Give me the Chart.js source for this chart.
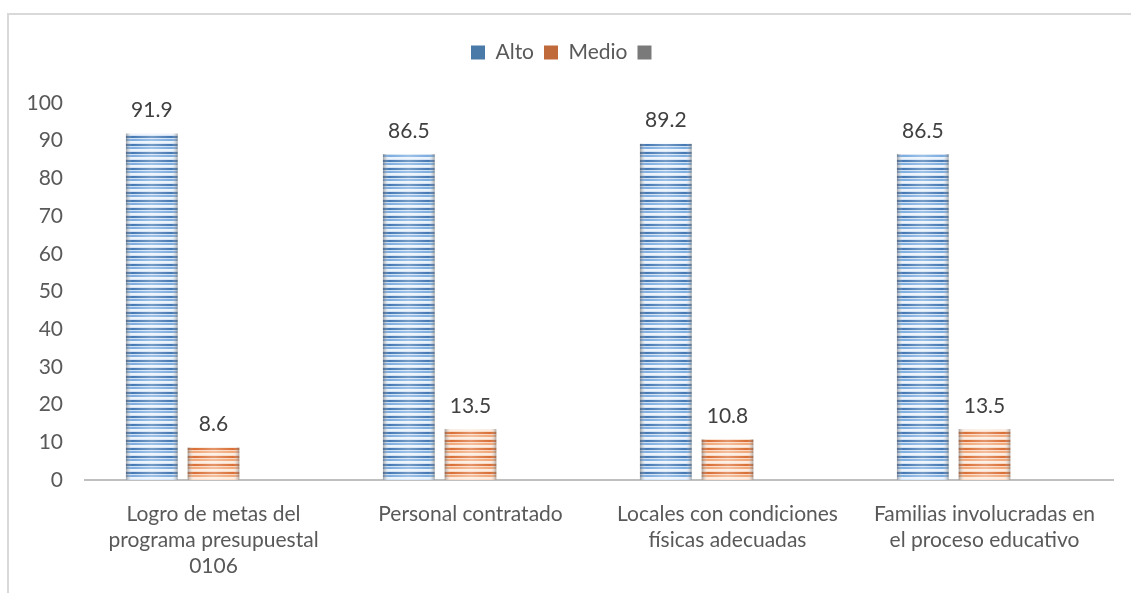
<!DOCTYPE html>
<html>
<head>
<meta charset="utf-8">
<script src="https://cdn.jsdelivr.net/npm/chart.js@4.4.0/dist/chart.umd.min.js"></script>
<style>
  html, body { margin: 0; padding: 0; background: #ffffff; }
  #wrap { position: relative; width: 1131px; height: 593px; overflow: hidden; }
  #frame { position: absolute; left: 7px; top: 13px; width: 1200px; height: 700px;
           border-top: 2px solid #d9d9d9; border-left: 2px solid #d9d9d9; }
  canvas { position: absolute; left: 0; top: 0; }
</style>
</head>
<body>
<div id="wrap">
  <div id="frame"></div>
  <canvas id="c" width="1131" height="593"></canvas>
</div>
<script>
const categories = [
  ["Logro de metas del", "programa presupuestal", "0106"],
  ["Personal contratado"],
  ["Locales con condiciones", "físicas adecuadas"],
  ["Familias involucradas en", "el proceso educativo"]
];
const seriesNames = ["Alto", "Medio", ""];
const altoValues = [91.9, 86.5, 89.2, 86.5];
const medioValues = [8.6, 13.5, 10.8, 13.5];
const thirdValues = [null, null, null, null];
const yTicks = [0, 10, 20, 30, 40, 50, 60, 70, 80, 90, 100];

const FONT = "Lato, 'Open Sans', sans-serif";
const FS = 21;
const CAT_PCT = 0.72;
const BAR_PCT = 0.84;
const NSETS = 3;

const styles = [
  { legend: '#4a7aa8', dark: '#3a71b0', mid: '#74a8de', light1: '#cfe0f3', light2: '#eaf2fb' },
  { legend: '#c0693b', dark: '#d8672a', mid: '#f1a271', light1: '#f8d6c0', light2: '#fcebdf' },
  { legend: '#7a7a7a', dark: '#7a7a7a', mid: '#a0a0a0', light1: '#d0d0d0', light2: '#eeeeee' }
];

const patternCache = {};
function barFill(context) {
  const ds = context.datasetIndex;
  const st = styles[ds];
  if (context.type !== 'data') return st.legend;
  const chart = context.chart;
  const xs = chart.scales && chart.scales.x;
  if (!xs || !chart.chartArea) return st.mid;
  const catW = xs.width / categories.length;
  const slot = catW * CAT_PCT / NSETS;
  const bw = slot * BAR_PCT;
  const center = xs.getPixelForValue(context.dataIndex) + (ds - (NSETS - 1) / 2) * slot;
  const left = center - bw / 2;
  const w = Math.max(1, Math.ceil(bw));
  const key = ds + '_' + w;
  let base = patternCache[key];
  if (!base) {
    const period = 8;
    const cv = document.createElement('canvas');
    cv.width = w; cv.height = period;
    const g = cv.getContext('2d');
    const rows = [st.dark, st.dark, st.light1, st.mid, st.mid, st.light2, st.light2, st.light1];
    for (let r = 0; r < period; r++) { g.fillStyle = rows[r]; g.fillRect(0, r, w, 1); }
    const grad = g.createLinearGradient(0, 0, w, 0);
    grad.addColorStop(0, 'rgba(95,95,95,0.55)');
    grad.addColorStop(0.12, 'rgba(255,255,255,0.05)');
    grad.addColorStop(0.5, 'rgba(255,255,255,0.3)');
    grad.addColorStop(0.88, 'rgba(255,255,255,0.05)');
    grad.addColorStop(1, 'rgba(95,95,95,0.55)');
    g.fillStyle = grad; g.fillRect(0, 0, w, period);
    base = cv;
    patternCache[key] = cv;
  }
  const pat = chart.ctx.createPattern(base, 'repeat');
  pat.setTransform(new DOMMatrix([1, 0, 0, 1, left, chart.chartArea.bottom]));
  return pat;
}

const valueLabels = {
  id: 'valueLabels',
  afterDatasetsDraw(chart) {
    const ctx = chart.ctx;
    ctx.save();
    ctx.font = FS + 'px ' + FONT;
    ctx.fillStyle = '#404040';
    ctx.textAlign = 'center';
    ctx.textBaseline = 'middle';
    chart.data.datasets.forEach((d, i) => {
      const meta = chart.getDatasetMeta(i);
      meta.data.forEach((el, j) => {
        const v = d.data[j];
        if (v === null || v === undefined) return;
        ctx.fillText(v.toFixed(1), el.x, el.y - 23);
      });
    });
    ctx.restore();
  }
};

const legendFit = {
  id: 'legendFit',
  beforeLayout(chart) {
    const lg = chart.legend;
    if (lg && !lg._patched) {
      const orig = lg.fit;
      lg.fit = function () { orig.call(this); this.height = 71; };
      lg._patched = true;
    }
  }
};

new Chart(document.getElementById('c'), {
  type: 'bar',
  data: {
    labels: categories,
    datasets: [
      { label: seriesNames[0], data: altoValues, backgroundColor: barFill, borderWidth: 0 },
      { label: seriesNames[1], data: medioValues, backgroundColor: barFill, borderWidth: 0 },
      { label: seriesNames[2], data: thirdValues, backgroundColor: barFill, borderWidth: 0 }
    ]
  },
  options: {
    responsive: false,
    animation: false,
    events: [],
    categoryPercentage: CAT_PCT,
    barPercentage: BAR_PCT,
    layout: { padding: { left: 20, right: 18, top: 32, bottom: 0 } },
    plugins: {
      legend: {
        position: 'top',
        labels: {
          boxWidth: 14, boxHeight: 14, padding: 10,
          color: '#595959',
          font: { family: FONT, size: FS },
          generateLabels(chart) {
            return chart.data.datasets.map((d, i) => ({
              text: d.label, fillStyle: styles[i].legend, strokeStyle: styles[i].legend,
              lineWidth: 0, hidden: false, datasetIndex: i, fontColor: '#595959'
            }));
          }
        }
      },
      tooltip: { enabled: false }
    },
    scales: {
      x: {
        grid: { display: false, drawTicks: false },
        border: { display: true, color: '#bfbfbf', width: 2 },
        ticks: {
          color: '#595959', font: { family: FONT, size: FS, lineHeight: 1.24 },
          padding: 21, maxRotation: 0, minRotation: 0, autoSkip: false
        },
        afterFit(scale) { scale.height = 113; }
      },
      y: {
        min: 0, max: 100,
        afterBuildTicks(scale) { scale.ticks = yTicks.map(v => ({ value: v })); },
        grid: { display: false, drawTicks: false },
        border: { display: false },
        ticks: {
          color: '#595959', font: { family: FONT, size: FS },
          padding: 22
        },
        afterFit(scale) { scale.width = 65; }
      }
    }
  },
  plugins: [valueLabels, legendFit]
});
</script>
</body>
</html>
